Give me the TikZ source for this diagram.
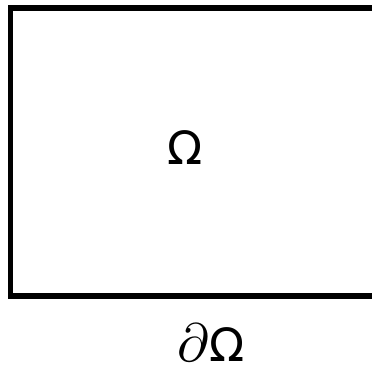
\documentclass[tikz,border=0pt]{standalone}
\usepackage{graphicx}
\usepackage{fontspec}
\setmainfont{DejaVu Sans}
\begin{document}
\begin{tikzpicture}[x=1pt,y=1pt,
  lbl/.style={inner sep=0pt,outer sep=0pt,font=\fontsize{46}{52}\selectfont}]
\useasboundingbox (0,0) rectangle (372,366);
\clip (0,0) rectangle (372,366);
\draw[line width=5.5pt] (380,358) -- (10.5,358) -- (10.5,70) -- (380,70);
\node[lbl,anchor=base] (omega) at (185.5,201) {Ω};
\node[lbl,anchor=base] (boundary) at (211,4) {\scalebox{5.4}{\fontsize{10}{12}\selectfont$\partial$}Ω};
\end{tikzpicture}
\end{document}
